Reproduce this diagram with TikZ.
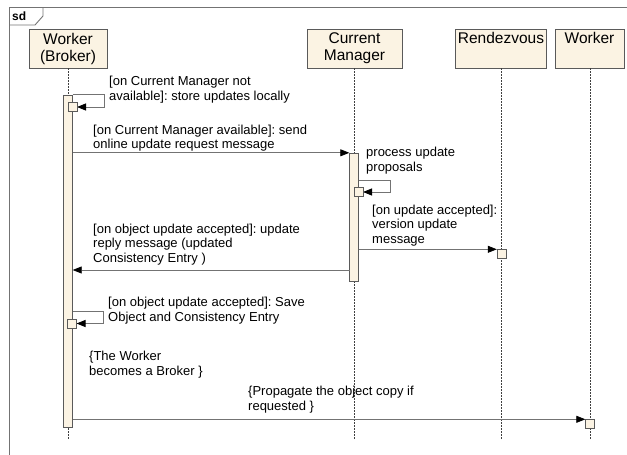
\documentclass[tikz,border=0pt]{standalone}
\usepackage{fontspec}
\setmainfont{Liberation Sans}
\usetikzlibrary{arrows.meta}
\frenchspacing

\definecolor{cream}{HTML}{FBF3E3}
\definecolor{edge}{HTML}{5A5A5A}

\tikzset{
  frame/.style={draw=black!55, line width=0.9pt},
  head/.style={draw=edge, fill=cream, minimum height=39pt, inner sep=0pt, align=center,
    font=\fontsize{15.5}{17}\selectfont},
  lifeline/.style={draw=black!75, dash pattern=on 1.5pt off 1.5pt},
  actbar/.style={draw=edge, fill=cream, minimum width=9pt, inner sep=0pt},
  sqbox/.style={draw=edge, fill=cream, minimum size=9pt, inner sep=0pt},
  msg/.style={draw=black!55, line width=0.8pt, -{Triangle[length=9pt,width=7pt,color=black]}},
  lbl/.style={anchor=base west, align=left, inner sep=0pt, font=\fontsize{13}{14.5}\selectfont}
}

\begin{document}
\begin{tikzpicture}[x=1pt,y=-1pt]
    \useasboundingbox (0,0) rectangle (627,455);

    % frame and tab
    \draw[frame] (627,7) -- (9,7) -- (9,455);
    \draw[frame] (9,25) -- (35,25) -- (43,16) -- (43,7);
    \node[lbl, font=\bfseries\fontsize{12}{14}\selectfont](sd) at (12,20){sd};

    % lifeline heads
    \node[head, minimum width=78pt](wb) at (68,48.5){Worker\\(Broker)};
    \node[head, minimum width=95pt](cm) at (354.5,48.5){Current\\Manager};
    \node[head, minimum width=91pt](rv) at (501,48.5){Rendezvous\\\strut};
    \node[head, minimum width=69pt](wk) at (589.5,48.5){Worker\\\strut};

    \coordinate(wbend) at (68,440);
    \coordinate(cmend) at (354,440);
    \coordinate(rvend) at (501.5,440);
    \coordinate(wkend) at (590,440);

    \draw[lifeline] (wb.south) -- (wbend);
    \draw[lifeline] (cm.south -| cmend) -- (cmend);
    \draw[lifeline] (rv.south -| rvend) -- (rvend);
    \draw[lifeline] (wk.south -| wkend) -- (wkend);

    % activations
    \node[actbar, minimum height=332pt](wbbar) at (68,261){};
    \node[actbar, minimum height=128pt](cmbar) at (354,217){};

    \coordinate(p2) at (358.5,180);
    \coordinate(p3) at (72.5,311);
    \coordinate(m3) at (349.5,270);

    % self messages
    \draw[msg] (wbbar.north east) -- ++(31.5,0) |- (72.5+4.5,107);
    \node[sqbox](sq1) at (72.5,107){};
    \draw[msg] (p2) -- ++(31.5,0) |- (358.5+4.5,192);
    \node[sqbox](sq2) at (358.5,192){};
    \draw[msg] (p3) -- ++(30.5,0) |- (72+4.5,323.5);
    \node[sqbox](sq3) at (72,323.5){};

    % receivers
    \node[sqbox](rvsq) at (501.5,254){};
    \node[sqbox](wksq) at (590,424){};

    % messages
    \draw[msg] (wbbar.east |- cmbar.north) -- (cmbar.north west);
    \draw[msg] (cmbar.east |- rvsq.north) -- (rvsq.north west);
    \draw[msg] (m3) -- (wbbar.east |- m3);
    \draw[msg] (wbbar.east |- wksq.north) -- (wksq.north west);

    % labels (placed at the baseline of their last line)
    \node[lbl](t1) at (109,100){[on Current Manager not\\available]: store updates locally};
    \node[lbl](t2) at (93,148.5){[on Current Manager available]: send\\online update request message};
    \node[lbl](t3) at (366,171){process update\\proposals};
    \node[lbl](t4) at (372,243){[on update accepted]:\\version update\\message};
    \node[lbl](t5) at (93,262){[on object update accepted]: update\\reply message (updated\\Consistency Entry )};
    \node[lbl](t6) at (108,321){[on object update accepted]: Save\\Object and Consistency Entry};
    \node[lbl](t7) at (89,375){\{The Worker\\becomes a Broker \}};
    \node[lbl](t8) at (248,410){\{Propagate the object copy if\\requested \}};

  \end{tikzpicture}
\end{document}
